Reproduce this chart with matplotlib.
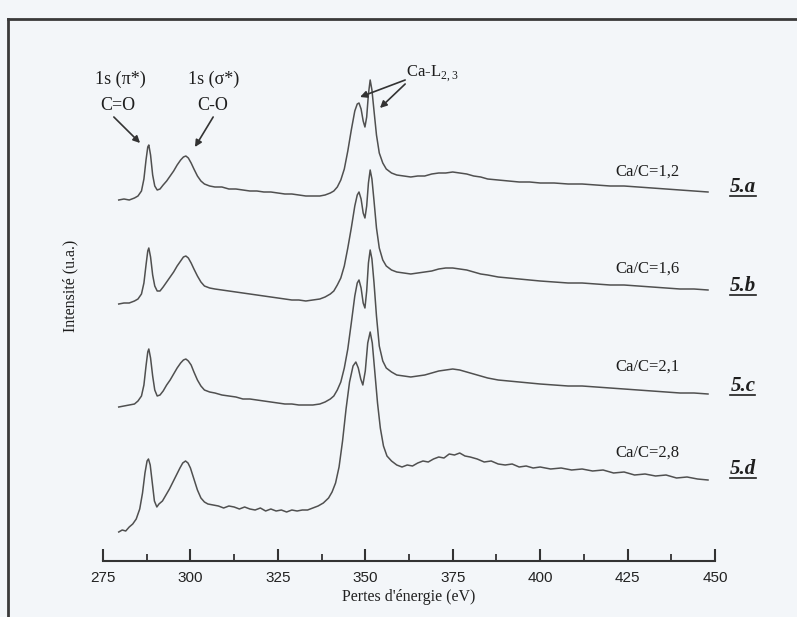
import matplotlib
matplotlib.use("Agg")
import matplotlib.pyplot as plt
from matplotlib.lines import Line2D
from matplotlib.ticker import MultipleLocator

plt.rcParams['mathtext.fontset'] = 'custom'
plt.rcParams['mathtext.rm'] = 'Liberation Serif'

# ---------------- data ----------------
energy_abc = [279.5, 281, 282.5, 284, 285, 286, 286.7, 287.3, 287.8, 288.1,
              288.6, 289.2, 289.8, 290.5, 291.3, 292.2, 293.2, 294.2, 295.2, 296.2,
              297.2, 298, 298.7, 299.4, 300.2, 301, 302, 303, 304, 305.5,
              307, 309, 311, 313, 315, 317, 319, 321, 323, 325,
              327, 329, 331, 333, 335, 337, 338.5, 340, 341, 342,
              343, 344, 345, 346, 347, 347.7, 348.2, 348.8, 349.4, 349.9,
              350.4, 350.9, 351.4, 351.9, 352.5, 353.2, 354, 355, 356, 357.5,
              359, 361, 363, 365, 367, 369, 371, 373, 375, 377,
              379, 381, 383, 385, 388, 391, 394, 397, 400, 404,
              408, 412, 416, 420, 424, 428, 432, 436, 440, 444,
              448]

intensity_a = [331, 332, 331, 333, 335, 340, 352, 371, 384, 386,
               376, 356, 345, 341, 342, 346, 350, 355, 360, 366,
               371, 374, 375, 373, 368, 362, 355, 350, 347, 345,
               344, 344, 342, 342, 341, 340, 340, 339, 339, 338,
               337, 337, 336, 335, 335, 335, 336, 338, 340, 344,
               351, 362, 380, 401, 420, 427, 428, 422, 410, 404,
               414, 437, 451, 441, 420, 396, 378, 368, 362, 358,
               356, 355, 354, 355, 355, 357, 358, 358, 359, 358,
               357, 355, 354, 352, 351, 350, 349, 349, 348, 348,
               347, 347, 346, 345, 345, 344, 343, 342, 341, 340,
               339]

intensity_b = [227, 228, 228, 230, 232, 237, 248, 266, 280, 283,
               274, 256, 245, 240, 240, 244, 249, 254, 259, 265,
               270, 274, 275, 273, 268, 262, 255, 249, 245, 243,
               242, 241, 240, 239, 238, 237, 236, 235, 234, 233,
               232, 231, 231, 230, 231, 232, 234, 237, 240, 246,
               253, 265, 283, 303, 325, 336, 339, 332, 318, 313,
               325, 348, 361, 352, 330, 303, 283, 271, 265, 261,
               259, 258, 257, 258, 259, 260, 262, 263, 263, 262,
               261, 259, 257, 256, 254, 253, 252, 251, 250, 249,
               248, 248, 247, 246, 246, 245, 244, 243, 242, 242,
               241]

intensity_c = [124, 125, 126, 127, 130, 135, 146, 165, 179, 182,
               173, 155, 141, 135, 136, 140, 146, 151, 157, 163,
               168, 171, 172, 170, 166, 159, 151, 145, 141, 139,
               138, 136, 135, 134, 132, 132, 131, 130, 129, 128,
               127, 127, 126, 126, 126, 127, 129, 132, 135, 141,
               149, 163, 182, 208, 235, 248, 251, 243, 228, 223,
               240, 268, 281, 272, 248, 215, 185, 170, 163, 159,
               156, 155, 154, 155, 156, 158, 160, 161, 162, 161,
               159, 157, 155, 153, 151, 150, 149, 148, 147, 146,
               145, 145, 144, 143, 142, 141, 140, 139, 138, 138,
               137]

energy_d = [279.5, 280.5, 281.5, 282.5, 283.5, 284.5, 285.5, 286.3, 287, 287.6,
            288, 288.5, 289.1, 289.7, 290.4, 291, 292, 293, 294, 295,
            296, 297, 297.8, 298.6, 299.3, 300, 301, 302, 303, 304,
            305, 306.5, 308, 309.5, 311, 312.5, 314, 315.5, 317, 318.5,
            320, 321.5, 323, 324.5, 326, 327.5, 329, 330.5, 332, 333.5,
            335, 336.5, 338, 339.5, 340.5, 341.5, 342.5, 343.5, 344.5, 345.5,
            346.5, 347.3, 348, 348.7, 349.3, 350, 350.7, 351.4, 352, 352.7,
            353.5, 354.3, 355.2, 356.2, 357.5, 359, 360.5, 362, 363.5, 365,
            366.5, 368, 369.5, 371, 372.5, 374, 375.5, 377, 378.5, 380,
            382, 384, 386, 388, 390, 392, 394, 396, 398, 400,
            403, 406, 409, 412, 415, 418, 421, 424, 427, 430,
            433, 436, 439, 442, 445, 448]

intensity_d = [-1, 1, 0, 4, 7, 12, 22, 38, 58, 70,
               72, 66, 48, 30, 24, 27, 30, 36, 42, 49,
               56, 63, 68, 70, 68, 63, 52, 41, 33, 29,
               27, 26, 25, 23, 25, 24, 22, 24, 22, 21,
               23, 20, 22, 20, 21, 19, 21, 20, 21, 21,
               23, 25, 28, 33, 39, 48, 64, 90, 122, 149,
               165, 169, 163, 152, 146, 160, 188, 199, 188, 160,
               128, 103, 85, 75, 70, 66, 64, 66, 65, 68,
               70, 69, 72, 74, 73, 77, 76, 78, 75, 74,
               72, 69, 70, 67, 66, 67, 64, 65, 63, 64,
               62, 63, 61, 62, 60, 61, 58, 59, 56, 57,
               55, 56, 53, 54, 52, 51]

ratio_labels = ["Ca/C=1,2", "Ca/C=1,6", "Ca/C=2,1", "Ca/C=2,8"]
panel_labels = ["5.a", "5.b", "5.c", "5.d"]
x_ticks = [275, 300, 325, 350, 375, 400, 425, 450]

# ---------------- figure ----------------
W, H = 797, 617
bg = '#f3f6f9'
fig = plt.figure(figsize=(W / 100, H / 100), dpi=100, facecolor=bg)
ax = fig.add_axes([103 / W, 1 - 561 / H, 612 / W, 541 / H])
ax.set_facecolor('none')
ax.set_xlim(275, 450)
ax.set_ylim(-30, 511)

line_col = '#505050'
for I, E in ((intensity_a, energy_abc), (intensity_b, energy_abc),
             (intensity_c, energy_abc), (intensity_d, energy_d)):
    ax.plot(E, I, color=line_col, lw=1.1)

for s in ('top', 'right', 'left'):
    ax.spines[s].set_visible(False)
ax.spines['bottom'].set_color('#333333')
ax.spines['bottom'].set_linewidth(1.5)
ax.set_yticks([])
ax.set_xticks(x_ticks)
ax.xaxis.set_minor_locator(MultipleLocator(12.5))
ax.tick_params(axis='x', which='major', direction='in', length=9, width=1.5,
               color='#333333', pad=7, labelsize=11, labelcolor='#222222')
ax.tick_params(axis='x', which='minor', direction='in', length=5, width=1.3,
               color='#333333')
for lab in ax.get_xticklabels():
    lab.set_family('Liberation Sans')
ax.set_xlabel("Pertes d'énergie (eV)", family='Liberation Serif', fontsize=11.5,
              color='#222222', labelpad=3)

serif = 'Liberation Serif'
tc = '#1e1e1e'
fig.text(70 / W, 1 - 286 / H, "Intensité (u.a.)", rotation=90, family=serif,
         fontsize=11.5, color=tc, ha='center', va='center')

# Ca/C labels and panel labels
ratio_y = [359, 262, 164, 78]
panel_y = [344, 245, 145, 62]
for txt, y in zip(ratio_labels, ratio_y):
    ax.text(430.6, y, txt, family=serif, fontsize=12, color=tc,
            ha='center', va='center')
panel_texts = []
for txt, y in zip(panel_labels, panel_y):
    t = ax.text(458.0, y, txt, family=serif, fontsize=15, fontweight='bold',
                style='italic', color=tc, ha='center', va='center', clip_on=False)
    panel_texts.append(t)

# peak annotations
arrow_kw = dict(arrowstyle='-|>', color='#333333', lw=1.2,
                mutation_scale=10, shrinkA=0, shrinkB=0)
ax.text(279.9, 452, "1s (π*)", family=serif, fontsize=13, color=tc,
        ha='center', va='center')
ax.text(279.3, 426, "C=O", family=serif, fontsize=13, color=tc,
        ha='center', va='center')
ax.annotate("", xy=(285.6, 388), xytext=(278.1, 414), arrowprops=arrow_kw)
ax.text(306.5, 452, "1s (σ*)", family=serif, fontsize=13, color=tc,
        ha='center', va='center')
ax.text(306.5, 426, "C-O", family=serif, fontsize=13, color=tc,
        ha='center', va='center')
ax.annotate("", xy=(301.3, 384), xytext=(306.5, 414), arrowprops=arrow_kw)
ax.text(361.6, 457, r"Ca-L$_{\mathregular{2,3}}$", family=serif, fontsize=12,
        color=tc, ha='left', va='center')
ax.annotate("", xy=(348.5, 434), xytext=(361.4, 451), arrowprops=arrow_kw)
ax.annotate("", xy=(354.2, 423), xytext=(361.4, 447), arrowprops=arrow_kw)

# outer frame (scanned page border)
fig.add_artist(Line2D([8 / W, 8 / W], [0, 1 - 19 / H], transform=fig.transFigure,
                      color='#3a3a3a', lw=2))
fig.add_artist(Line2D([8 / W, 1], [1 - 19 / H, 1 - 19 / H], transform=fig.transFigure,
                      color='#3a3a3a', lw=2))

# underline panel labels
fig.canvas.draw()
r = fig.canvas.get_renderer()
for t in panel_texts:
    bb = t.get_window_extent(r)
    yb = bb.y0 + 1
    fig.add_artist(Line2D([bb.x0 / W, bb.x1 / W], [yb / H, yb / H],
                          transform=fig.transFigure, color=tc, lw=1.2))

fig.savefig("out.png", dpi=100, facecolor=bg)
